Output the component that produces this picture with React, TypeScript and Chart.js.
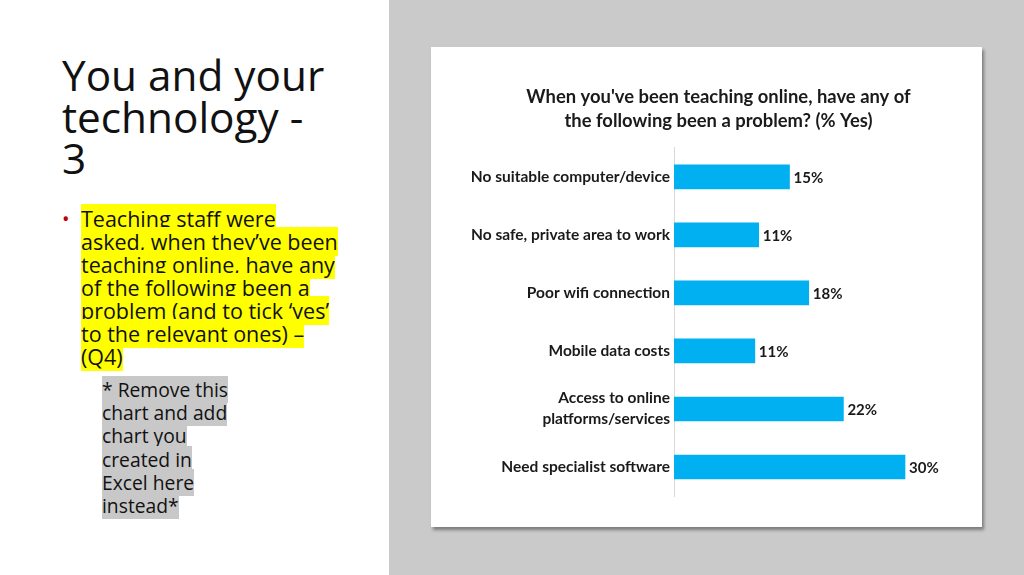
import React, { useEffect, useRef } from "react";
import { Chart, registerables } from "chart.js";

Chart.register(...registerables);

const categories: (string | string[])[] = [
  "No suitable computer/device",
  "No safe, private area to work",
  "Poor wifi connection",
  "Mobile data costs",
  ["Access to online", "platforms/services"],
  "Need specialist software",
];
const yesPercent = [15, 11, 17.5, 10.5, 22, 30];
const valueLabels = ["15%", "11%", "18%", "11%", "22%", "30%"];
const chartTitle = [
  "When you've been teaching online, have any of",
  "the following been a problem? (% Yes)",
];

const FONT = "Lato, 'Noto Sans', sans-serif";

const valueLabelPlugin = {
  id: "valueLabels",
  afterDatasetsDraw(chart: any) {
    const ctx = chart.ctx;
    const meta = chart.getDatasetMeta(0);
    ctx.save();
    ctx.font = `bold 15px ${FONT}`;
    ctx.fillStyle = "#1a1a1a";
    ctx.textAlign = "left";
    ctx.textBaseline = "middle";
    meta.data.forEach((bar: any, i: number) => {
      ctx.fillText(valueLabels[i], bar.x + 4, bar.y + 1);
    });
    ctx.restore();
  },
};

function BarChart() {
  const ref = useRef<HTMLCanvasElement>(null);
  useEffect(() => {
    if (!ref.current) return;
    const chart = new Chart(ref.current, {
      type: "bar",
      data: {
        labels: categories,
        datasets: [
          {
            data: yesPercent,
            backgroundColor: "#00B0F0",
            borderWidth: 0,
            barThickness: 24,
          },
        ],
      },
      options: {
        indexAxis: "y",
        animation: false,
        responsive: false,
        maintainAspectRatio: false,
        layout: { padding: { left: 0, right: 0, top: 0, bottom: 31 } },
        plugins: {
          legend: { display: false },
          tooltip: { enabled: false },
          title: {
            display: true,
            text: chartTitle,
            color: "#1a1a1a",
            font: { family: FONT, size: 18.4, weight: "bold", lineHeight: 1.3 },
            padding: { top: 38, bottom: 15 },
          },
        },
        scales: {
          x: {
            display: false,
            min: 0,
            max: 40,
          },
          y: {
            grid: { display: false, drawTicks: false },
            border: { display: true, color: "#d9d9d9", width: 1 },
            ticks: {
              color: "#1a1a1a",
              font: { family: FONT, size: 15.5, weight: "bold", lineHeight: 1.35 },
              padding: 4,
              autoSkip: false,
            },
            afterFit(scale: any) {
              scale.width = 219;
            },
          },
        },
      },
      plugins: [valueLabelPlugin],
    });
    return () => chart.destroy();
  }, []);
  return (
    <canvas
      ref={ref}
      width={527}
      height={480}
      style={{ position: "absolute", left: 24, top: 0, width: 527, height: 480 }}
    />
  );
}

export default function App() {
  const textFont = "'Open Sans', 'Noto Sans', sans-serif";
  const bulletLines = [
    "Teaching staff were",
    "asked, when they\u2019ve been",
    "teaching online, have any",
    "of the following been a",
    "problem (and to tick \u2018yes\u2019",
    "to the relevant ones) \u2013",
    "(Q4)",
  ];
  const noteLines = [
    "* Remove this",
    "chart and add",
    "chart you",
    "created in",
    "Excel here",
    "instead*",
  ];
  return (
    <div
      style={{
        position: "fixed",
        left: 0,
        top: 0,
        width: 1024,
        height: 575,
        background: "#ffffff",
        overflow: "hidden",
        fontFamily: textFont,
      }}
    >
      <div
        style={{
          position: "absolute",
          left: 62,
          top: 54,
          fontSize: 42.3,
          lineHeight: "41.5px",
          color: "#111",
          width: 320,
        }}
      >
        You and your
        <br />
        technology -
        <br />
        3
      </div>
      <div
        style={{
          position: "absolute",
          left: 62,
          top: 207,
          fontSize: 20,
          color: "#c00000",
          lineHeight: "23px",
        }}
      >
        •
      </div>
      <div
        style={{
          position: "absolute",
          left: 81,
          top: 207,
          fontSize: 21.5,
          lineHeight: "23px",
          color: "#111",
        }}
      >
        {bulletLines.map((l, i) => (
          <React.Fragment key={i}>
            <span style={{ background: "#ffff00" }}>{l}</span>
            <br />
          </React.Fragment>
        ))}
      </div>
      <div
        style={{
          position: "absolute",
          left: 102,
          top: 378,
          fontSize: 19.3,
          lineHeight: "23.2px",
          color: "#111",
        }}
      >
        {noteLines.map((l, i) => (
          <React.Fragment key={i}>
            <span style={{ background: "#c8c8c8" }}>{l}</span>
            <br />
          </React.Fragment>
        ))}
      </div>
      <div
        style={{
          position: "absolute",
          left: 389,
          top: 0,
          width: 635,
          height: 575,
          background: "#c9cac9",
        }}
      />
      <div
        style={{
          position: "absolute",
          left: 431,
          top: 47,
          width: 551,
          height: 480,
          background: "#ffffff",
          boxShadow: "2px 3px 3px rgba(60,60,60,0.55)",
        }}
      >
        <BarChart />
      </div>
    </div>
  );
}
